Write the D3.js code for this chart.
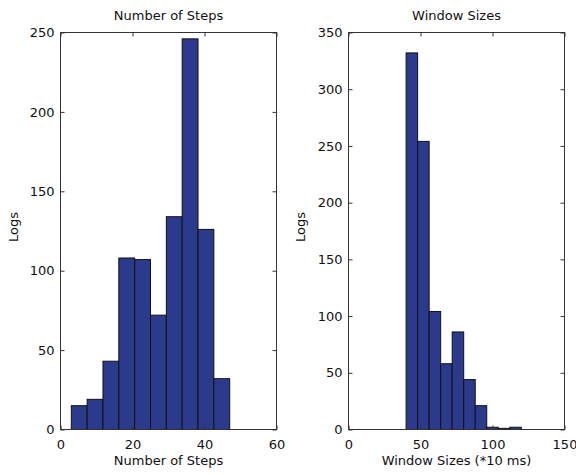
<!DOCTYPE html>
<html><head><meta charset="utf-8">
<script src="https://cdn.jsdelivr.net/npm/d3@7"></script>
<style>body{margin:0;background:#fff}svg{display:block}text{font-family:"DejaVu Sans",Verdana,sans-serif}</style>
</head><body><svg id="c" width="576" height="475"></svg>
<script>
// Panel 1: Number of Steps
const stepEdges = [3, 7.4, 11.8, 16.2, 20.6, 25, 29.4, 33.8, 38.2, 42.6, 47];
const stepCounts = [15, 19, 43, 108, 107, 72, 134, 246, 126, 32];
const stepXTicks = [0, 20, 40, 60];
const stepYTicks = [0, 50, 100, 150, 200, 250];
// Panel 2: Window Sizes
const winEdges = [40, 48, 56, 64, 72, 80, 88, 96, 104, 112, 120];
const winCounts = [332, 254, 104, 58, 86, 44, 21, 2, 1, 2];
const winXTicks = [0, 50, 100, 150];
const winYTicks = [0, 50, 100, 150, 200, 250, 300, 350];

const svg = d3.select("#c");
const barColor = "#2b3a8c";
const FONT = '"DejaVu Sans",Verdana,sans-serif';

function panel(cfg) {
  const x = d3.scaleLinear().domain(cfg.xDomain).range([cfg.left, cfg.right]);
  const y = d3.scaleLinear().domain(cfg.yDomain).range([cfg.bottom, cfg.top]);
  const g = svg.append("g");
  const bins = cfg.counts.map((c, i) => ({x0: cfg.edges[i], x1: cfg.edges[i + 1], c}));
  g.selectAll("rect.bar").data(bins).join("rect")
    .attr("x", d => x(d.x0)).attr("width", d => x(d.x1) - x(d.x0))
    .attr("y", d => y(d.c)).attr("height", d => y(0) - y(d.c))
    .attr("fill", barColor).attr("stroke", "#111").attr("stroke-width", 1);
  const tl = 4;
  const bx = g.append("g").attr("transform", `translate(0,${cfg.bottom})`)
    .call(d3.axisBottom(x).tickValues(cfg.xTicks).tickSizeInner(-tl).tickSizeOuter(0).tickPadding(10));
  const tx = g.append("g").attr("transform", `translate(0,${cfg.top})`)
    .call(d3.axisTop(x).tickValues(cfg.xTicks).tickSizeInner(-tl).tickSizeOuter(0).tickFormat(""));
  const ly = g.append("g").attr("transform", `translate(${cfg.left},0)`)
    .call(d3.axisLeft(y).tickValues(cfg.yTicks).tickSizeInner(-tl).tickSizeOuter(0).tickPadding(6));
  const ry = g.append("g").attr("transform", `translate(${cfg.right},0)`)
    .call(d3.axisRight(y).tickValues(cfg.yTicks).tickSizeInner(-tl).tickSizeOuter(0).tickFormat(""));
  [bx, tx, ly, ry].forEach(a => {
    a.select(".domain").remove();
    a.selectAll("line").attr("stroke", "#333");
    a.selectAll("text").attr("font-size", 13).attr("fill", "#111").style("font-family", FONT);
  });
  g.append("rect").attr("x", cfg.left).attr("y", cfg.top)
    .attr("width", cfg.right - cfg.left).attr("height", cfg.bottom - cfg.top)
    .attr("fill", "none").attr("stroke", "#333").attr("stroke-width", 1);
  const cx = (cfg.left + cfg.right) / 2;
  g.append("text").attr("x", cx).attr("y", 20).attr("text-anchor", "middle")
    .attr("font-size", 13).attr("fill", "#111").text(cfg.title);
  g.append("text").attr("x", cx).attr("y", 465).attr("text-anchor", "middle")
    .attr("font-size", 13).attr("fill", "#111").text(cfg.xlabel);
  g.append("text").attr("transform", `translate(${cfg.ylabX},227) rotate(-90)`)
    .attr("text-anchor", "middle").attr("font-size", 13).attr("fill", "#111").text("Logs");
}

panel({xDomain: [0, 60], yDomain: [0, 250], left: 60.5, right: 276.5, top: 32.5, bottom: 429.5,
  edges: stepEdges, counts: stepCounts, xTicks: stepXTicks, yTicks: stepYTicks,
  title: "Number of Steps", xlabel: "Number of Steps", ylabX: 18});
panel({xDomain: [0, 150], yDomain: [0, 350], left: 348.5, right: 564.5, top: 32.5, bottom: 429.5,
  edges: winEdges, counts: winCounts, xTicks: winXTicks, yTicks: winYTicks,
  title: "Window Sizes", xlabel: "Window Sizes (*10 ms)", ylabX: 305});
</script></body></html>
